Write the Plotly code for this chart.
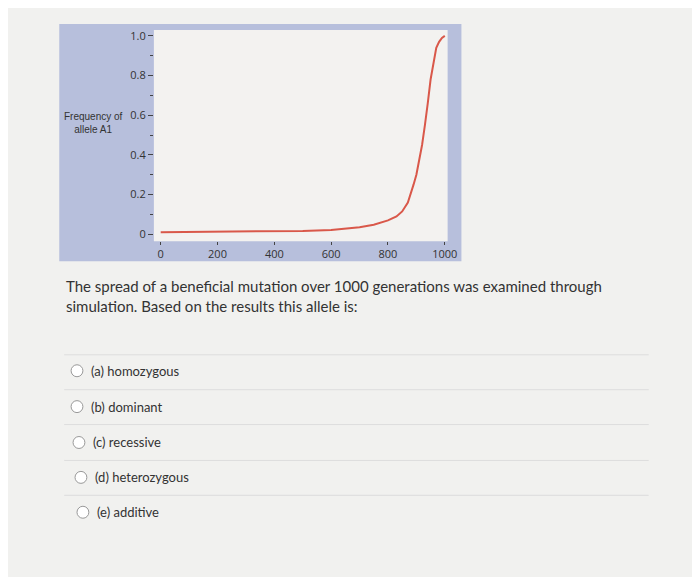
import plotly.graph_objects as go

generations = [0, 100, 200, 300, 400, 500, 600, 650, 700, 750, 800, 830, 850, 870, 880, 890, 900, 910, 920, 930, 935, 940, 950, 960, 965, 970, 980, 990, 1000]
freq_a1 = [0.01, 0.011, 0.011, 0.012, 0.014, 0.017, 0.022, 0.027, 0.035, 0.048, 0.07, 0.09, 0.115, 0.16, 0.2, 0.25, 0.3, 0.37, 0.45, 0.55, 0.6, 0.66, 0.78, 0.87, 0.9, 0.94, 0.97, 0.99, 1.0]
y_ticks = [0, 0.2, 0.4, 0.6, 0.8, 1.0]
y_tick_labels = ["0", "0.2", "0.4", "0.6", "0.8", "1.0"]
x_ticks = [0, 200, 400, 600, 800, 1000]
question = ["The spread of a beneficial mutation over 1000 generations was examined through",
            "simulation. Based on the results this allele is:"]
options = ["(a) homozygous", "(b) dominant", "(c) recessive", "(d) heterozygous", "(e) additive"]

W, H = 700, 577
def px(x): return x / W
def py(y): return 1 - y / H

fig = go.Figure(go.Scatter(x=generations, y=freq_a1, mode="lines",
                           line=dict(color="#d9584a", width=2), showlegend=False))

shapes = [dict(type="rect", xref="paper", yref="paper", x0=px(52), x1=px(460), y0=py(252), y1=py(14),
               fillcolor="#b7bfdc", line=dict(width=0), layer="below"),
          dict(type="rect", xref="paper", yref="paper", x0=px(148), x1=px(446), y0=py(232), y1=py(20),
               fillcolor="#f3f2f0", line=dict(width=0), layer="below")]
ann = [dict(text="Frequency of<br>allele A1", x=px(87), y=py(113), xref="paper", yref="paper",
            xanchor="center", yanchor="middle",
            showarrow=False, font=dict(size=10, color="#333", family="Liberation Sans"))]
ann.append(dict(text="<br>".join(question), x=px(57), y=py(287), xref="paper", yref="paper",
                xanchor="left", yanchor="middle", align="left", showarrow=False,
                font=dict(size=15, color="#333", family="Lato")))
oy = [362, 398, 434, 469, 504]
for i, (o, y) in enumerate(zip(options, oy)):
    cx = 70 if i < 2 else (72 + (i - 2) * 2)
    shapes.append(dict(type="circle", xref="paper", yref="paper", x0=px(cx - 6), x1=px(cx + 6),
                       y0=py(y + 6), y1=py(y - 6), line=dict(color="#999", width=1), fillcolor="white"))
    ann.append(dict(text=o, x=px(cx + 12), y=py(y), xref="paper", yref="paper", xanchor="left",
                    yanchor="middle", showarrow=False, font=dict(size=13, color="#333", family="Lato")))
for y in [346, 381, 416, 452, 487]:
    shapes.append(dict(type="line", xref="paper", yref="paper", x0=px(57), x1=px(650), y0=py(y), y1=py(y),
                       line=dict(color="#ddd", width=1)))

fig.update_layout(
    width=W, height=H, margin=dict(l=0, r=0, t=0, b=0),
    paper_bgcolor="#f1f1ef", plot_bgcolor="rgba(0,0,0,0)",
    shapes=shapes, annotations=ann,
    xaxis=dict(domain=[px(148), px(446)], range=[-24, 1010], tickvals=x_ticks, showgrid=False,
               zeroline=False, ticks="outside", ticklen=3, tickfont=dict(size=11, color="#333")),
    yaxis=dict(domain=[py(232), py(20)], range=[-0.035, 1.03], tickvals=y_ticks, ticktext=y_tick_labels,
               showgrid=False, zeroline=False, ticks="outside", ticklen=5,
               minor=dict(dtick=0.1, ticks="outside", ticklen=3),
               tickfont=dict(size=11, color="#333")),
)
fig.write_html("out.html")
